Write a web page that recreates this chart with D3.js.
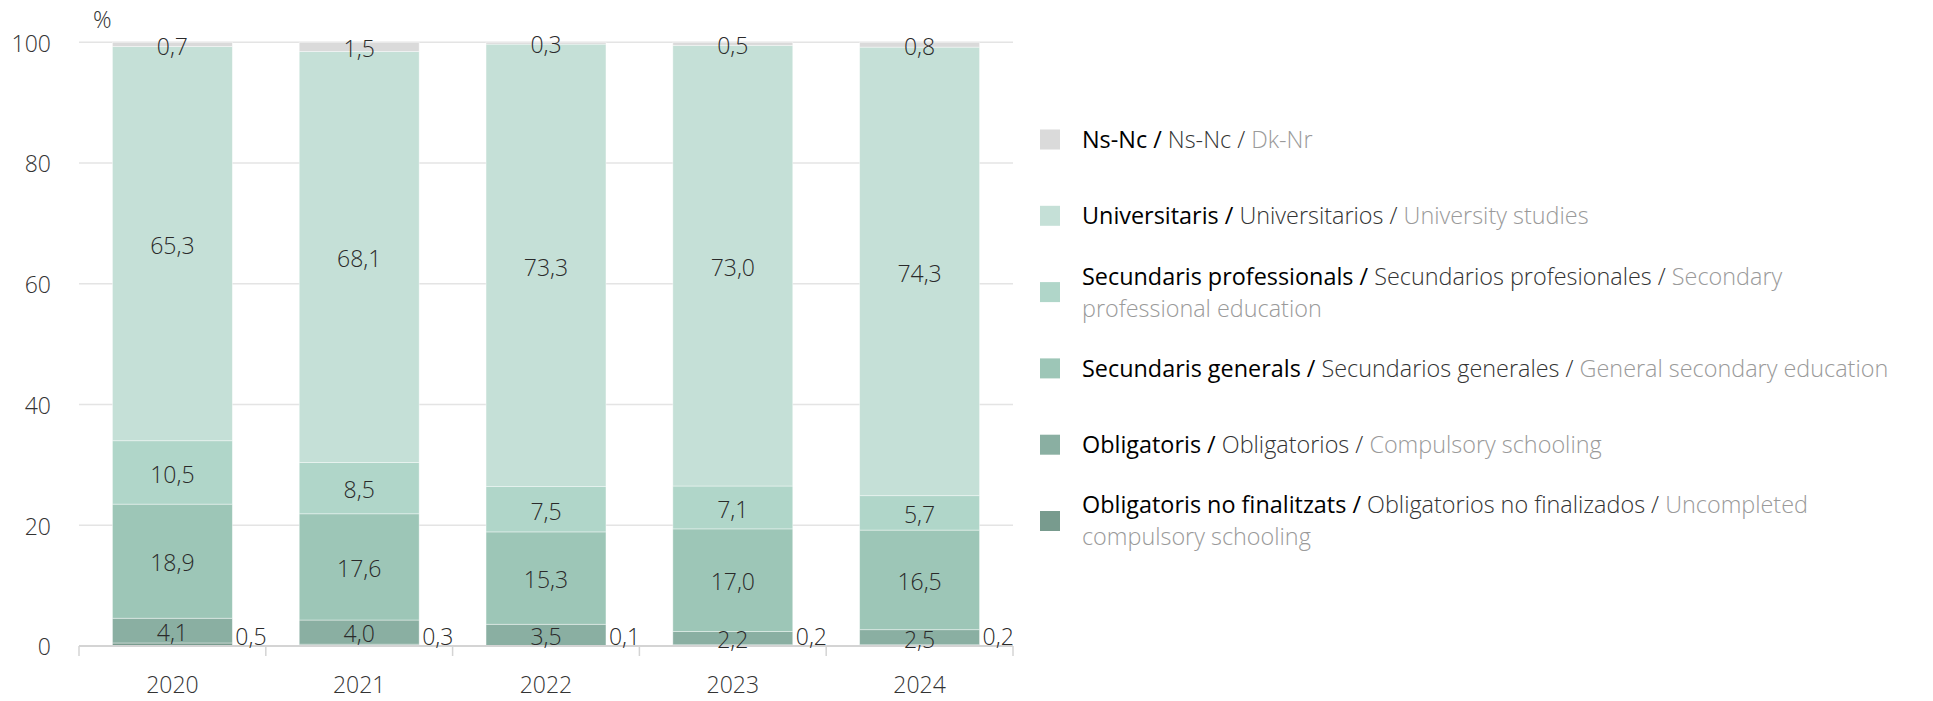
<!DOCTYPE html>
<html>
<head>
<meta charset="utf-8">
<script src="https://cdn.jsdelivr.net/npm/d3@7"></script>
<style>
  html, body { margin: 0; padding: 0; background: #fff; }
  svg { display: block; font-family: "Open Sans", sans-serif; }
</style>
</head>
<body>
<svg id="chart" width="1933" height="701"></svg>
<script>
// ---- DATA ----
const years = ["2020", "2021", "2022", "2023", "2024"];
const noFinalitzats = [0.5, 0.3, 0.1, 0.2, 0.2];
const obligatoris = [4.1, 4.0, 3.5, 2.2, 2.5];
const secundarisGenerals = [18.9, 17.6, 15.3, 17.0, 16.5];
const secundarisProfessionals = [10.5, 8.5, 7.5, 7.1, 5.7];
const universitaris = [65.3, 68.1, 73.3, 73.0, 74.3];
const nsNc = [0.7, 1.5, 0.3, 0.5, 0.8];
const yTicks = [0, 20, 40, 60, 80, 100];
const unitLabel = "%";

const seriesKeys = ["nofinal", "oblig", "secgen", "secprof", "uni", "nsnc"];
const seriesValues = [noFinalitzats, obligatoris, secundarisGenerals, secundarisProfessionals, universitaris, nsNc];
const seriesColors = ["#789b8e", "#8aafa2", "#9dc6b7", "#b0d6c9", "#c5e0d7", "#dadada"];

// legend labels: [Catalan, Spanish, English]
const legendLabels = {
  nsnc: ["Ns-Nc", "Ns-Nc", "Dk-Nr"],
  uni: ["Universitaris", "Universitarios", "University studies"],
  secprof: ["Secundaris professionals", "Secundarios profesionales", "Secondary professional education"],
  secgen: ["Secundaris generals", "Secundarios generales", "General secondary education"],
  oblig: ["Obligatoris", "Obligatorios", "Compulsory schooling"],
  nofinal: ["Obligatoris no finalitzats", "Obligatorios no finalizados", "Uncompleted compulsory schooling"]
};
const legendOrder = ["nsnc", "uni", "secprof", "secgen", "oblig", "nofinal"];

// ---- BUILD ----
const rows = years.map((y, i) => {
  const r = { year: y };
  seriesKeys.forEach((k, j) => r[k] = seriesValues[j][i]);
  return r;
});
const color = d3.scaleOrdinal().domain(seriesKeys).range(seriesColors);
const stack = d3.stack().keys(seriesKeys)(rows);

const svg = d3.select("#chart");
const x = d3.scaleBand().domain(years).range([79, 1013]).paddingInner(0.358).paddingOuter(0.179);
const y = d3.scaleLinear().domain([0, 100]).range([646, 42.3]);

const fmt = v => d3.format(".1f")(v).replace(".", ",");
const FS = 23;

// gridlines
svg.append("g").selectAll("line").data(yTicks.filter(t => t > 0)).join("line")
  .attr("x1", 79).attr("x2", 1013)
  .attr("y1", d => y(d)).attr("y2", d => y(d))
  .attr("stroke", "#e4e4e4").attr("stroke-width", 1.5);

// y labels
svg.append("g").selectAll("text").data(yTicks).join("text")
  .attr("x", 51).attr("y", d => y(d) + 1)
  .attr("dy", "0.36em")
  .attr("text-anchor", "end")
  .attr("font-size", FS).attr("font-weight", 300).attr("fill", "#333")
  .text(d => d);

svg.append("text").attr("x", 93).attr("y", 20).attr("dy", "0.36em")
  .attr("font-size", FS).attr("font-weight", 300).attr("fill", "#333").text(unitLabel);

// bars
const layers = svg.append("g").selectAll("g").data(stack).join("g")
  .attr("fill", d => color(d.key));
layers.selectAll("rect").data(d => d.map(p => ({ p, key: d.key }))).join("rect")
  .attr("x", d => x(d.p.data.year))
  .attr("width", x.bandwidth())
  .attr("y", d => y(d.p[1]))
  .attr("height", d => y(d.p[0]) - y(d.p[1]))
  .attr("stroke", "#fff").attr("stroke-width", 0.8).attr("stroke-opacity", 0.5);

// x axis
const ax = svg.append("g").attr("transform", "translate(0,646)");
ax.append("line").attr("x1", 79).attr("x2", 1013).attr("stroke", "#d4d4d4").attr("stroke-width", 2);
const bounds = years.map(yr => x(yr) - x.step() * x.paddingInner() / 2).concat([1013]);
bounds[0] = 79;
ax.selectAll("line.tick").data(bounds).join("line").attr("class", "tick")
  .attr("x1", d => d).attr("x2", d => d).attr("y1", 0).attr("y2", 10)
  .attr("stroke", "#d4d4d4").attr("stroke-width", 1.5);
ax.selectAll("text.xl").data(years).join("text").attr("class", "xl")
  .attr("x", d => x(d) + x.bandwidth() / 2).attr("y", 39)
  .attr("dy", "0.36em").attr("text-anchor", "middle")
  .attr("font-size", FS).attr("font-weight", 300).attr("fill", "#333")
  .text(d => d);

// value labels
const lab = svg.append("g").attr("font-size", FS).attr("font-weight", 300).attr("fill", "#2a2a2a");
stack.forEach(layer => {
  layer.forEach(p => {
    const v = p.data[layer.key];
    if (layer.key === "nofinal") {
      lab.append("text")
        .attr("x", x(p.data.year) + x.bandwidth() + 3)
        .attr("y", y(0) - 1)
        .text(fmt(v));
    } else {
      lab.append("text")
        .attr("x", x(p.data.year) + x.bandwidth() / 2)
        .attr("y", (y(p[0]) + y(p[1])) / 2 + 2)
        .attr("dy", "0.36em")
        .attr("text-anchor", "middle")
        .text(fmt(v));
    }
  });
});

// legend
const LFS = 23.4, LX = 1082, maxW = 815, lineH = 32;
const styles = [
  { weight: 400, fill: "#000" },
  { weight: 300, fill: "#333" },
  { weight: 300, fill: "#9a9a9a" }
];
const meas = svg.append("text").attr("font-size", LFS).attr("visibility", "hidden");
function wlen(str, weight) {
  meas.attr("font-weight", weight).text(str);
  return meas.node().getComputedTextLength();
}
legendOrder.forEach((key, i) => {
  const parts = legendLabels[key];
  const words = [];
  parts.forEach((p, j) => {
    const toks = p.split(" ");
    if (j < parts.length - 1) toks.push("/");
    toks.forEach(t => words.push({ t, s: j }));
  });
  // wrap
  const lines = [[]];
  let cur = 0;
  words.forEach(w => {
    const st = styles[w.s];
    const wl = wlen(w.t, st.weight);
    const sp = wlen("\u00a0", st.weight);
    const add = (lines[lines.length - 1].length ? sp : 0) + wl;
    if (cur + add > maxW && lines[lines.length - 1].length) {
      lines.push([]);
      cur = wl;
    } else cur += add;
    lines[lines.length - 1].push(w);
  });
  const cy = 139.5 + i * 76.3;
  svg.append("rect").attr("x", 1040).attr("y", cy - 10).attr("width", 20).attr("height", 20)
    .attr("fill", color(key));
  const top = cy - (lines.length - 1) * lineH / 2;
  lines.forEach((ln, li) => {
    const t = svg.append("text").attr("x", LX).attr("y", top + li * lineH).attr("dy", "0.36em")
      .attr("font-size", LFS);
    ln.forEach((w, wi) => {
      const st = styles[w.s];
      t.append("tspan").attr("font-weight", st.weight).attr("fill", st.fill)
        .text((wi ? "\u00a0" : "") + w.t);
    });
  });
});
meas.remove();
</script>
</body>
</html>
